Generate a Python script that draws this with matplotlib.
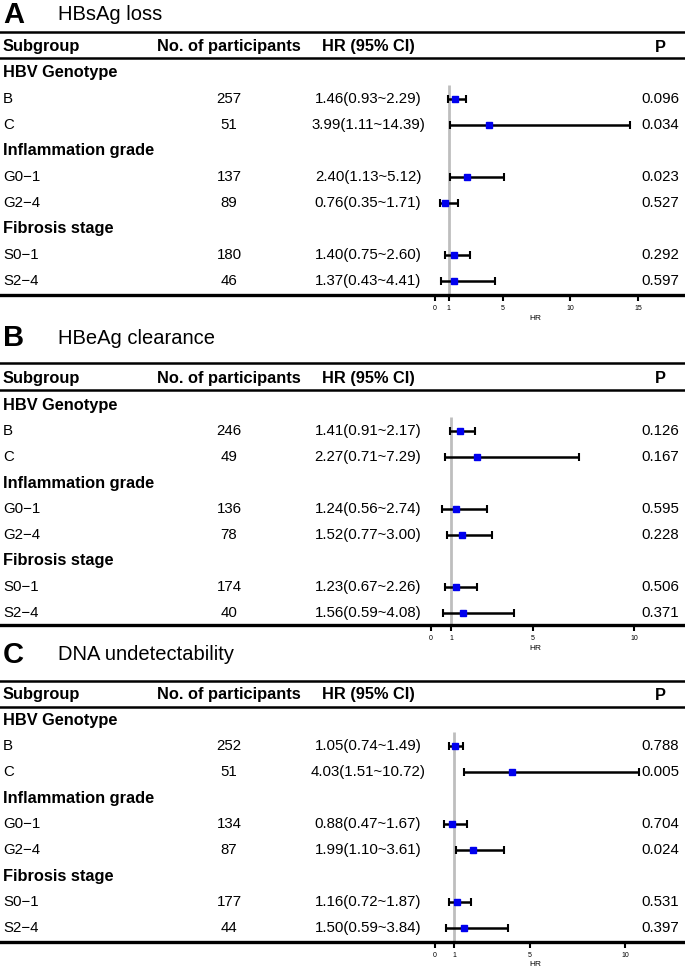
import numpy as np
import matplotlib
matplotlib.use('Agg')
import matplotlib.pyplot as plt
from matplotlib.transforms import blended_transform_factory

plt.rcParams['font.family'] = ['Liberation Sans', 'DejaVu Sans']

groups = ['HBV Genotype', 'Inflammation grade', 'Fibrosis stage']
subgroups = ['B', 'C', 'G0\u22121', 'G2\u22124', 'S0\u22121', 'S2\u22124']

# A - HBsAg loss
a_n = [257, 51, 137, 89, 180, 46]
a_hr = [1.46, 3.99, 2.40, 0.76, 1.40, 1.37]
a_lo = [0.93, 1.11, 1.13, 0.35, 0.75, 0.43]
a_hi = [2.29, 14.39, 5.12, 1.71, 2.60, 4.41]
a_p = ['0.096', '0.034', '0.023', '0.527', '0.292', '0.597']

# B - HBeAg clearance
b_n = [246, 49, 136, 78, 174, 40]
b_hr = [1.41, 2.27, 1.24, 1.52, 1.23, 1.56]
b_lo = [0.91, 0.71, 0.56, 0.77, 0.67, 0.59]
b_hi = [2.17, 7.29, 2.74, 3.00, 2.26, 4.08]
b_p = ['0.126', '0.167', '0.595', '0.228', '0.506', '0.371']

# C - DNA undetectability
c_n = [252, 51, 134, 87, 177, 44]
c_hr = [1.05, 4.03, 0.88, 1.99, 1.16, 1.50]
c_lo = [0.74, 1.51, 0.47, 1.10, 0.72, 0.59]
c_hi = [1.49, 10.72, 1.67, 3.61, 1.87, 3.84]
c_p = ['0.788', '0.005', '0.704', '0.024', '0.531', '0.397']

W, H = 685, 969
fig = plt.figure(figsize=(W / 100, H / 100), dpi=100)

# letter, title, title y, top line, header, header line, first row, bottom line, x of 0, px per unit, ticks, HR label y
panels = [
    ('A', 'HBsAg loss', 15, 32, 47, 58, 73, 295, 435, 13.53, [0, 1, 5, 10, 15], 318,
     a_n, a_hr, a_lo, a_hi, a_p),
    ('B', 'HBeAg clearance', 338, 363, 378, 390, 405, 625, 431, 20.33, [0, 1, 5, 10], 648,
     b_n, b_hr, b_lo, b_hi, b_p),
    ('C', 'DNA undetectability', 655, 681, 695, 707, 720, 942, 435, 19.0, [0, 1, 5, 10], 965,
     c_n, c_hr, c_lo, c_hi, c_p),
]

sp = 26.0
group_rows = [0, 3, 6]
sub_rows = [1, 2, 4, 5, 7, 8]
body = 10.8
bold = 11.8

for (letter, title, ty, top, head, hline, first, bottom, x0, ppu, ticks, hry,
     n, hr, lo, hi, p) in panels:
    ax = fig.add_axes([0, 1 - bottom / H, 1, (bottom - top) / H])
    ax.set_xlim(-x0 / ppu, (W - x0) / ppu)
    ax.set_ylim((bottom - first) / sp, (top - first) / sp)
    for s in ['left', 'right']:
        ax.spines[s].set_visible(False)
    ax.spines['top'].set_linewidth(1.8)
    ax.spines['bottom'].set_linewidth(2.4)
    ax.set_yticks([])
    ax.set_xticks(ticks)
    ax.tick_params(axis='x', direction='out', length=4, width=1.5, labelsize=5, pad=3)
    ax.set_xlabel('HR', fontsize=6, va='center')
    ax.xaxis.set_label_coords(535 / W, (bottom - hry) / (bottom - top))
    ax.patch.set_alpha(0)

    ax.axhline((hline - first) / sp, color='black', lw=1.8)
    ax.vlines(1, 1 - 14 / sp, (bottom - first) / sp, color='#bebebe', lw=2, zorder=0)

    hr = np.array(hr)
    lo = np.array(lo)
    hi = np.array(hi)
    ax.errorbar(hr, sub_rows, xerr=[hr - lo, hi - hr], fmt='s', ms=5,
                mfc='#0000ee', mec='#0000ee', ecolor='black', elinewidth=1.8,
                capsize=3, capthick=1.5, zorder=3)

    tr = blended_transform_factory(ax.transAxes, ax.transData)
    hy = (head - first) / sp
    ax.text(3 / W, hy, 'Subgroup', transform=tr, fontsize=bold, fontweight='bold', va='center')
    ax.text(229 / W, hy, 'No. of participants', transform=tr, fontsize=bold,
            fontweight='bold', va='center', ha='center')
    ax.text(368 / W, hy, 'HR (95% CI)', transform=tr, fontsize=bold,
            fontweight='bold', va='center', ha='center')
    ax.text(660 / W, hy, 'P', transform=tr, fontsize=bold, fontweight='bold',
            va='center', ha='center')

    for g, r in zip(groups, group_rows):
        ax.text(3 / W, r, g, transform=tr, fontsize=bold, fontweight='bold', va='center')
    for i, r in enumerate(sub_rows):
        ax.text(3 / W, r, subgroups[i], transform=tr, fontsize=body, va='center')
        ax.text(229 / W, r, str(n[i]), transform=tr, fontsize=body, va='center', ha='center')
        ax.text(368 / W, r, '%.2f(%.2f~%.2f)' % (hr[i], lo[i], hi[i]), transform=tr,
                fontsize=body, va='center', ha='center')
        ax.text(660 / W, r, p[i], transform=tr, fontsize=body, va='center', ha='center')

    fig.text(3 / W, 1 - ty / H, letter, fontsize=21, fontweight='bold', va='center')
    fig.text(58 / W, 1 - ty / H, title, fontsize=14.5, va='center')

fig.savefig('out.png', dpi=100)
